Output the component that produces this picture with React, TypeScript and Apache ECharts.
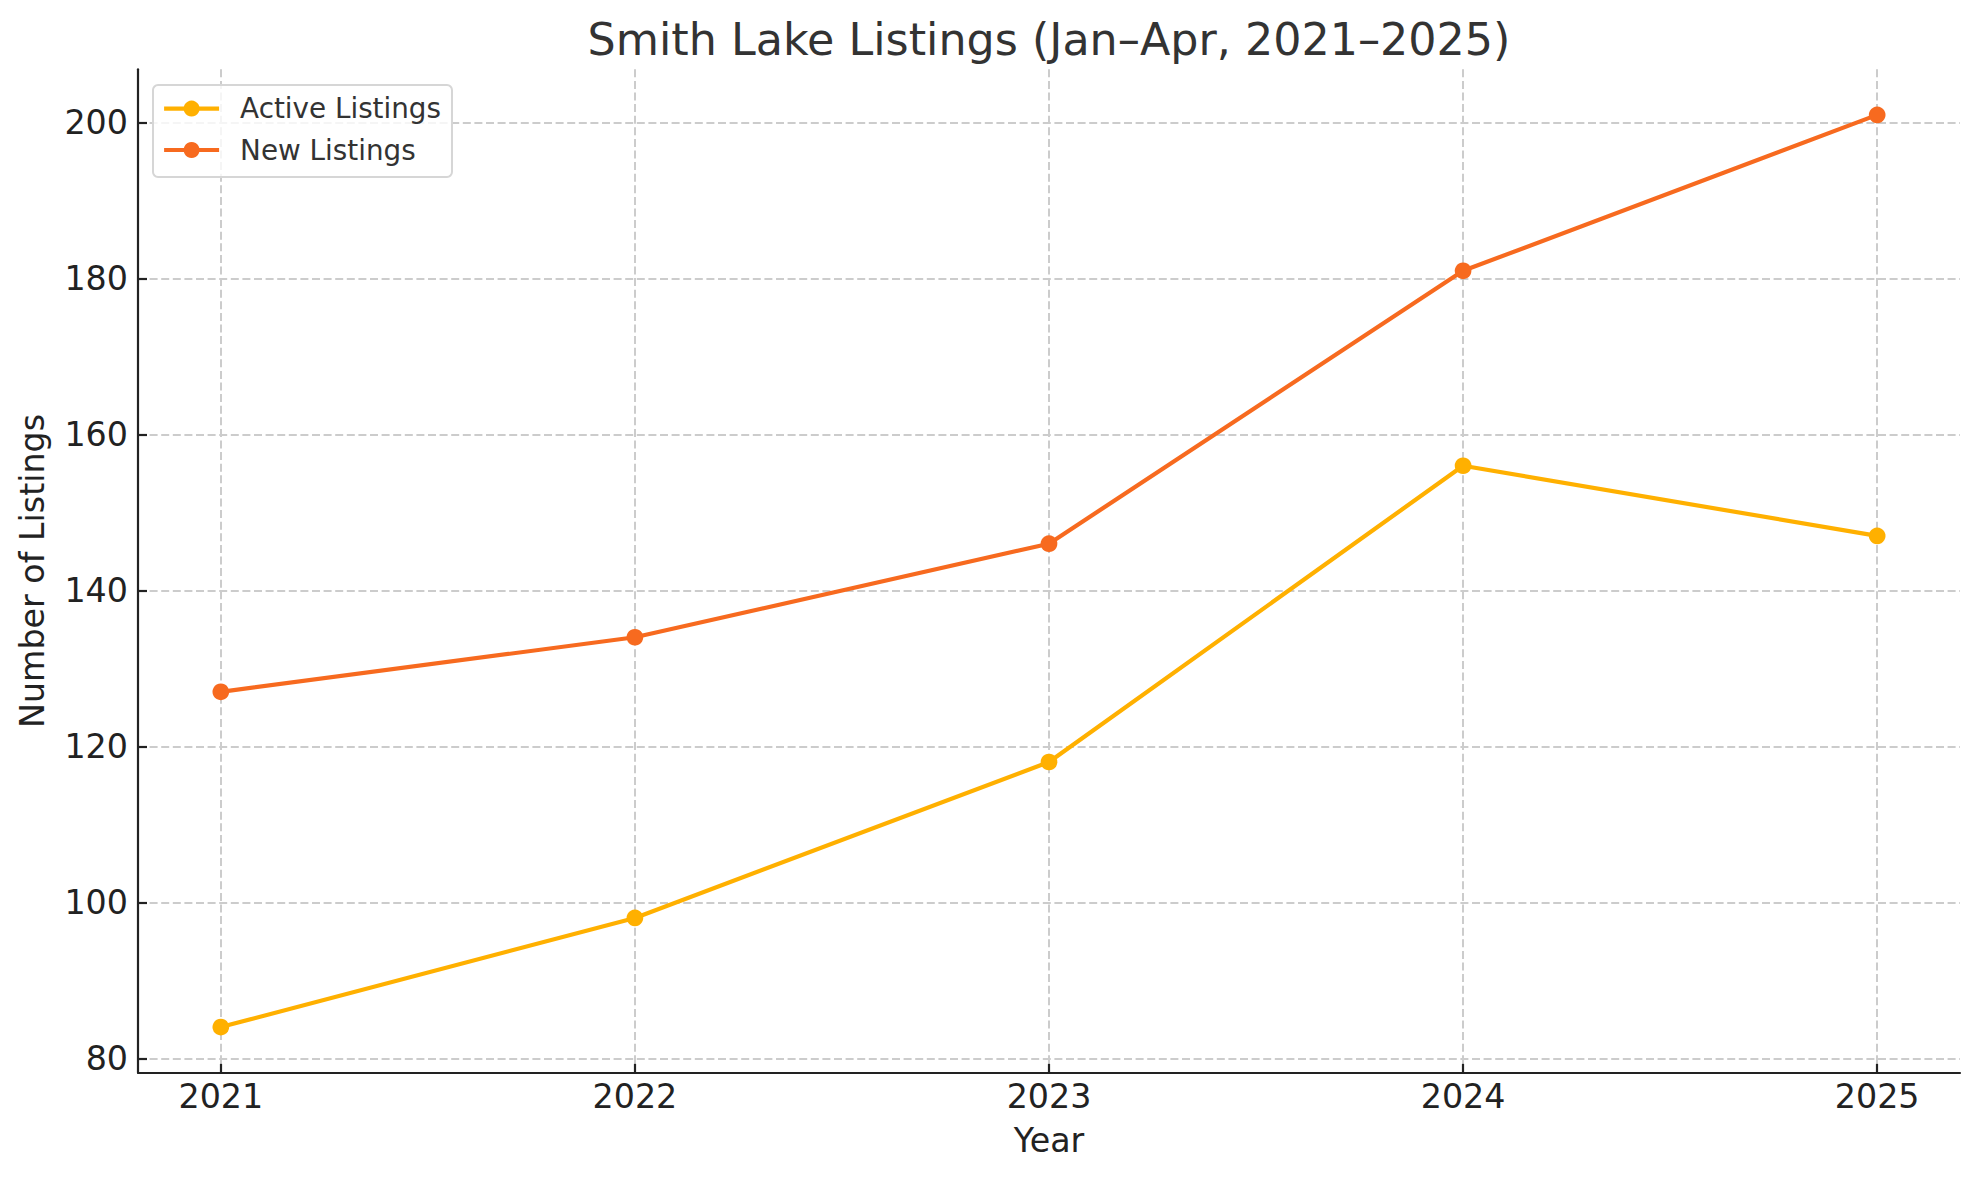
import React, { useEffect, useRef } from "react";
import * as echarts from "echarts";

const years = [2021, 2022, 2023, 2024, 2025];
const activeListings = [84, 98, 118, 156, 147];
const newListings = [127, 134, 146, 181, 201];
const yTicks = [80, 100, 120, 140, 160, 180, 200];

const FONT = "DejaVu Sans";

export default function App() {
  const ref = useRef<HTMLDivElement>(null);

  useEffect(() => {
    document.body.style.margin = "0";
    if (!ref.current) return;
    const chart = echarts.init(ref.current, null, { renderer: "svg" });

    const mk = (vals: number[]) => years.map((y, i) => [y, vals[i]]);

    const axisLineStyle = { color: "#222222", width: 2.2 };

    chart.setOption({
      animation: false,
      backgroundColor: "#ffffff",
      textStyle: { fontFamily: FONT },
      grid: { left: 138, right: 20, top: 69.3, bottom: 107.3, containLabel: false },
      xAxis: {
        type: "value",
        min: 2020.8,
        max: 2025.2,
        axisLine: { show: true, onZero: false, lineStyle: axisLineStyle },
        axisTick: { show: true, inside: true, length: 9, lineStyle: axisLineStyle, customValues: years },
        axisLabel: {
          customValues: years,
          color: "#222222",
          fontSize: 33.3,
          fontFamily: FONT,
          margin: 7.5,
          formatter: (v: number) => String(v),
        },
        splitLine: {
          show: true,
          lineStyle: { color: "#cccccc", width: 2, type: [8, 3.6] },
        },
      },
      yAxis: {
        type: "value",
        min: 78.15,
        max: 206.85,
        axisLine: { show: true, onZero: false, lineStyle: axisLineStyle },
        axisTick: { show: true, inside: true, length: 9, lineStyle: axisLineStyle, customValues: yTicks },
        axisLabel: {
          customValues: yTicks,
          color: "#222222",
          fontSize: 33.3,
          fontFamily: FONT,
          margin: 10,
        },
        splitLine: {
          show: true,
          lineStyle: { color: "#cccccc", width: 2, type: [8, 3.6] },
        },
      },
      legend: {
        orient: "vertical",
        left: 153,
        top: 85,
        padding: [9.6, 11, 13, 9],
        itemWidth: 55,
        itemHeight: 20,
        itemGap: 13.4,
        backgroundColor: "rgba(255,255,255,0.8)",
        borderColor: "#d6d6d6",
        borderWidth: 2,
        borderRadius: 5,
        lineStyle: { width: 4.2 },
        textStyle: {
          fontFamily: FONT,
          fontSize: 27.8,
          lineHeight: 28,
          color: "#333333",
          padding: [0, 0, 0, 16],
        },
        data: ["Active Listings", "New Listings"],
      },
      series: [
        {
          name: "Active Listings",
          type: "line",
          data: mk(activeListings),
          symbol: "circle",
          symbolSize: 16.7,
          color: "#FFB000",
          itemStyle: { color: "#FFB000" },
          lineStyle: { color: "#FFB000", width: 4.2 },
          z: 3,
        },
        {
          name: "New Listings",
          type: "line",
          data: mk(newListings),
          symbol: "circle",
          symbolSize: 16.7,
          color: "#F76A1F",
          itemStyle: { color: "#F76A1F" },
          lineStyle: { color: "#F76A1F", width: 4.2 },
          z: 4,
        },
      ],
      graphic: [
        {
          type: "text",
          x: 1049,
          y: 39,
          style: {
            text: "Smith Lake Listings (Jan–Apr, 2021–2025)",
            fontFamily: FONT,
            fontSize: 44.4,
            fill: "#333333",
            align: "center",
            verticalAlign: "middle",
          },
        },
        {
          type: "text",
          x: 1049,
          y: 1140,
          style: {
            text: "Year",
            fontFamily: FONT,
            fontSize: 33.3,
            fill: "#222222",
            align: "center",
            verticalAlign: "middle",
          },
        },
        {
          type: "text",
          x: 32.5,
          y: 571,
          rotation: Math.PI / 2,
          style: {
            text: "Number of Listings",
            fontFamily: FONT,
            fontSize: 33.3,
            fill: "#222222",
            align: "center",
            verticalAlign: "middle",
          },
        },
      ],
    });

    return () => chart.dispose();
  }, []);

  return <div ref={ref} style={{ width: 1980, height: 1180 }} />;
}
